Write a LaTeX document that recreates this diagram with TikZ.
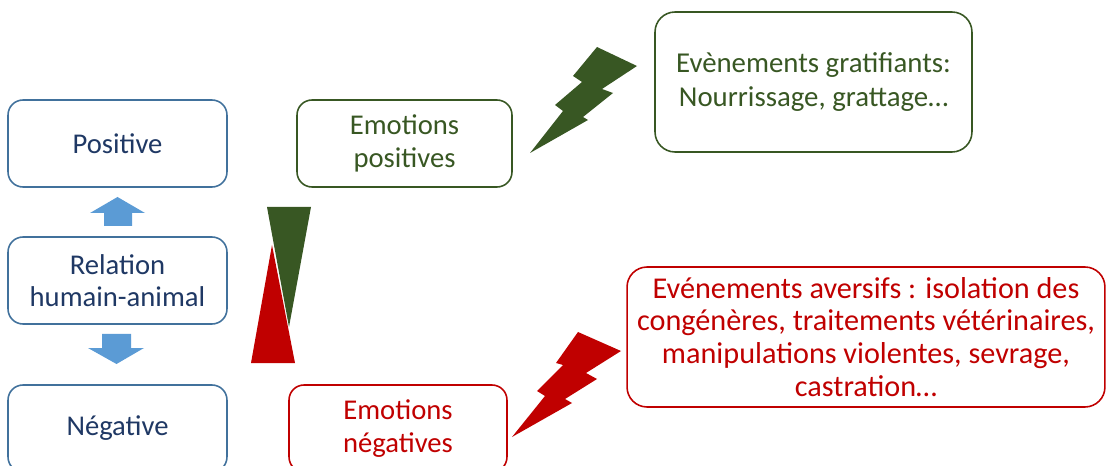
\documentclass[tikz,border=0pt]{standalone}
\usepackage{fontspec}
\setmainfont{Carlito}
\definecolor{navy}{HTML}{1F3864}
\definecolor{boxblue}{HTML}{41719C}
\definecolor{arrowblue}{HTML}{5B9BD5}
\definecolor{dgreen}{HTML}{385723}
\definecolor{dred}{HTML}{C00000}
\tikzset{
  box/.style={draw, line width=0.9pt, align=center, inner sep=0pt,
    font=\fontsize{16.3}{18.5}\selectfont},
  smallbox/.style={box, rounded corners=0.3cm, minimum height=1.74cm},
  bigbox/.style={box, rounded corners=0.4cm, minimum height=2.8cm},
  bluebox/.style={smallbox, draw=boxblue, text=navy, minimum width=4.38cm},
  greenbox/.style={draw=dgreen, text=dgreen},
  redbox/.style={draw=dred, text=dred}
}
\begin{document}
\begin{tikzpicture}[x=0.02cm,y=-0.02cm]
\useasboundingbox (0,0) rectangle (1107,466);
\clip (0,0) rectangle (1107,466);
% left column
\node[bluebox] (pos) at (117.5,143.5) {Positive};
\node[bluebox] (rel) at (117.5,280.5) {Relation\\humain-animal};
\node[bluebox] (neg) at (117.5,428.5) {Négative};
% block arrows
\fill[arrowblue] (104,226) -- (104,213) -- (90,213) -- (117.5,197) -- (145,213) -- (132,213) -- (132,226) -- cycle;
\fill[arrowblue] (102,334) -- (131,334) -- (131,348) -- (144,348) -- (116.5,364) -- (88,348) -- (102,348) -- cycle;
% emotions
\node[smallbox, greenbox, minimum width=4.30cm] (epos) at (404.5,143.5) {Emotions\\positives};
\node[smallbox, redbox, minimum width=4.36cm] (eneg) at (398,428.5) {Emotions\\négatives};
% events
\node[bigbox, greenbox, minimum width=6.34cm, font=\fontsize{16.4}{19.8}\selectfont] (grat) at (813.5,82) {Evènements gratifiants:\\Nourrissage, grattage…};
\node[bigbox, redbox, minimum width=9.56cm, font=\fontsize{17.2}{18.7}\selectfont] (aver) at (866,337) {Evénements aversifs : isolation des\\congénères, traitements vétérinaires,\\manipulations violentes, sevrage,\\castration…};
% balance triangles
\fill[dgreen] (267,207) -- (311,207) -- (289,327) -- cycle;
\fill[dred] (272,245) -- (295,363) -- (251,363) -- cycle;
% lightning bolts
\fill[dgreen] (530,153) -- (563,111) -- (555,105) -- (582,82) -- (573,76) -- (597,47) -- (637,66) -- (602,89) -- (613,93) -- (583,117) -- (588,120) -- cycle;
\fill[dred] (512,437) -- (545,396) -- (537,391) -- (563,365) -- (556,363) -- (578,332) -- (621,351) -- (586,373) -- (597,379) -- (565,399) -- (572,403) -- cycle;
\end{tikzpicture}
\end{document}
